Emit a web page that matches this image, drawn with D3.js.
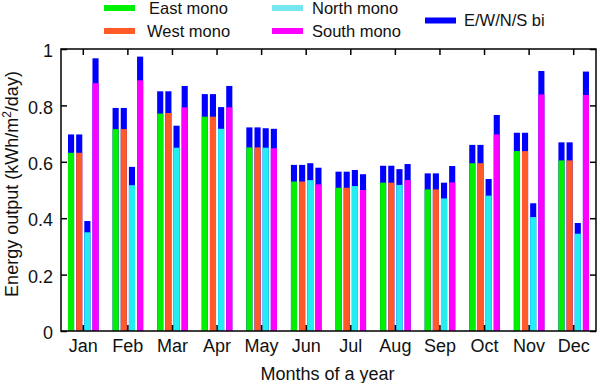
<!DOCTYPE html>
<html><head><meta charset="utf-8">
<script src="https://cdn.jsdelivr.net/npm/d3@7"></script>
<style>body{margin:0;background:#fff}svg{display:block}text{font-family:"Liberation Sans",Arial,sans-serif;fill:#111}</style>
</head><body><svg id="c" width="600" height="383"></svg>
<script>
const months = ["Jan","Feb","Mar","Apr","May","Jun","Jul","Aug","Sep","Oct","Nov","Dec"];
const seriesNames = ["East mono","West mono","North mono","South mono"];
const seriesColors = ["#00f000","#ff5a28","#22eef2","#ff00ff"];
const biName = "E/W/N/S bi";
const biColor = "#0000ff";
// mono values
const eastMono  = [0.632,0.716,0.771,0.760,0.651,0.530,0.508,0.526,0.502,0.595,0.638,0.605];
const westMono  = [0.632,0.716,0.773,0.760,0.651,0.530,0.508,0.526,0.502,0.595,0.638,0.605];
const northMono = [0.350,0.517,0.650,0.717,0.650,0.535,0.514,0.518,0.470,0.480,0.404,0.345];
const southMono = [0.879,0.889,0.793,0.793,0.648,0.520,0.500,0.535,0.527,0.697,0.839,0.837];
// bifacial totals (same orientation)
const eastBi  = [0.697,0.791,0.850,0.840,0.722,0.589,0.565,0.586,0.559,0.660,0.703,0.669];
const westBi  = [0.697,0.791,0.850,0.840,0.722,0.589,0.565,0.586,0.559,0.660,0.703,0.669];
const northBi = [0.390,0.582,0.728,0.794,0.719,0.595,0.571,0.574,0.526,0.539,0.453,0.383];
const southBi = [0.967,0.973,0.869,0.869,0.717,0.579,0.556,0.592,0.585,0.766,0.922,0.920];
const yTicks = [0,0.2,0.4,0.6,0.8,1];

const monoAll = [eastMono,westMono,northMono,southMono];
const biAll = [eastBi,westBi,northBi,southBi];

const svg = d3.select("#c");
const L=61, R=596, T=49, B=331;
const x = d3.scaleBand().domain(months).range([L,R]).paddingInner(0).paddingOuter(0);
const y = d3.scaleLinear().domain([0,1]).range([B,T]);
const inner = d3.scaleBand().domain(d3.range(4)).range([-15.3,15.3]).paddingInner(0.25).paddingOuter(0);

const data = [];
months.forEach((m,i)=>{
  for(let s=0;s<4;s++) data.push({m, s, mono:monoAll[s][i], bi:biAll[s][i]});
});
const cx = d=> x(d.m)+x.bandwidth()/2+inner(d.s);
const g = svg.append("g");
g.selectAll("rect.bi").data(data).join("rect").attr("class","bi")
  .attr("x",cx).attr("width",inner.bandwidth())
  .attr("y",d=>y(d.bi)).attr("height",d=>y(0)-y(d.bi)).attr("fill",biColor);
g.selectAll("rect.mono").data(data).join("rect").attr("class","mono")
  .attr("x",cx).attr("width",inner.bandwidth())
  .attr("y",d=>y(d.mono)).attr("height",d=>y(0)-y(d.mono)).attr("fill",d=>seriesColors[d.s]);

// frame
svg.append("rect").attr("x",L).attr("y",T).attr("width",R-L).attr("height",B-T)
  .attr("fill","none").attr("stroke","#000").attr("stroke-width",1.5);

// axes with inward ticks
const fs = 18;
const yl = svg.append("g").attr("transform",`translate(${L},0)`)
  .call(d3.axisRight(y).tickValues(yTicks).tickSize(6).tickFormat(()=>""));
const yr = svg.append("g").attr("transform",`translate(${R},0)`)
  .call(d3.axisLeft(y).tickValues(yTicks).tickSize(6).tickFormat(()=>""));
const xb = svg.append("g").attr("transform",`translate(0,${B})`)
  .call(d3.axisTop(x).tickSize(6).tickFormat(()=>""));
const xt = svg.append("g").attr("transform",`translate(0,${T})`)
  .call(d3.axisBottom(x).tickSize(6).tickFormat(()=>""));
[yl,yr,xb,xt].forEach(a=>{a.select(".domain").remove(); a.selectAll("line").attr("stroke","#000").attr("stroke-width",1.5);});

// tick labels
svg.append("g").selectAll("text").data(yTicks).join("text")
  .attr("x",L-8).attr("y",d=>y(d)).attr("dy","0.45em").attr("text-anchor","end")
  .attr("font-size",fs).text(d=>d3.format("~g")(d));
svg.append("g").selectAll("text").data(months).join("text")
  .attr("x",d=>x(d)+x.bandwidth()/2).attr("y",352).attr("text-anchor","middle")
  .attr("font-size",fs).text(d=>d);

// titles
svg.append("text").attr("x",(L+R)/2-1).attr("y",380).attr("text-anchor","middle")
  .attr("font-size",fs).text("Months of a year");
const yt = svg.append("text").attr("transform",`translate(18,${184}) rotate(-90)`)
  .attr("text-anchor","middle").attr("font-size",fs);
yt.append("tspan").text("Energy output (kWh/m");
yt.append("tspan").attr("font-size",12).attr("dy",-7).text("2");
yt.append("tspan").attr("dy",7).text("/day)");

// legend
const legend = [
  {name:seriesNames[0], color:seriesColors[0], x:104, y:8, tx:45},
  {name:seriesNames[1], color:seriesColors[1], x:104, y:31, tx:43},
  {name:seriesNames[2], color:"#77e6ee", x:272, y:8, tx:40},
  {name:seriesNames[3], color:seriesColors[3], x:272, y:31, tx:40},
  {name:biName, color:biColor, x:425, y:20.5, tx:39}
];
const lg = svg.append("g").selectAll("g").data(legend).join("g")
  .attr("transform",d=>`translate(${d.x},${d.y})`);
lg.append("rect").attr("x",0).attr("y",-3).attr("width",31).attr("height",6).attr("fill",d=>d.color);
lg.append("text").attr("x",d=>d.tx).attr("y",0).attr("dy","0.36em")
  .attr("font-size",16.5).text(d=>d.name);
</script></body></html>
